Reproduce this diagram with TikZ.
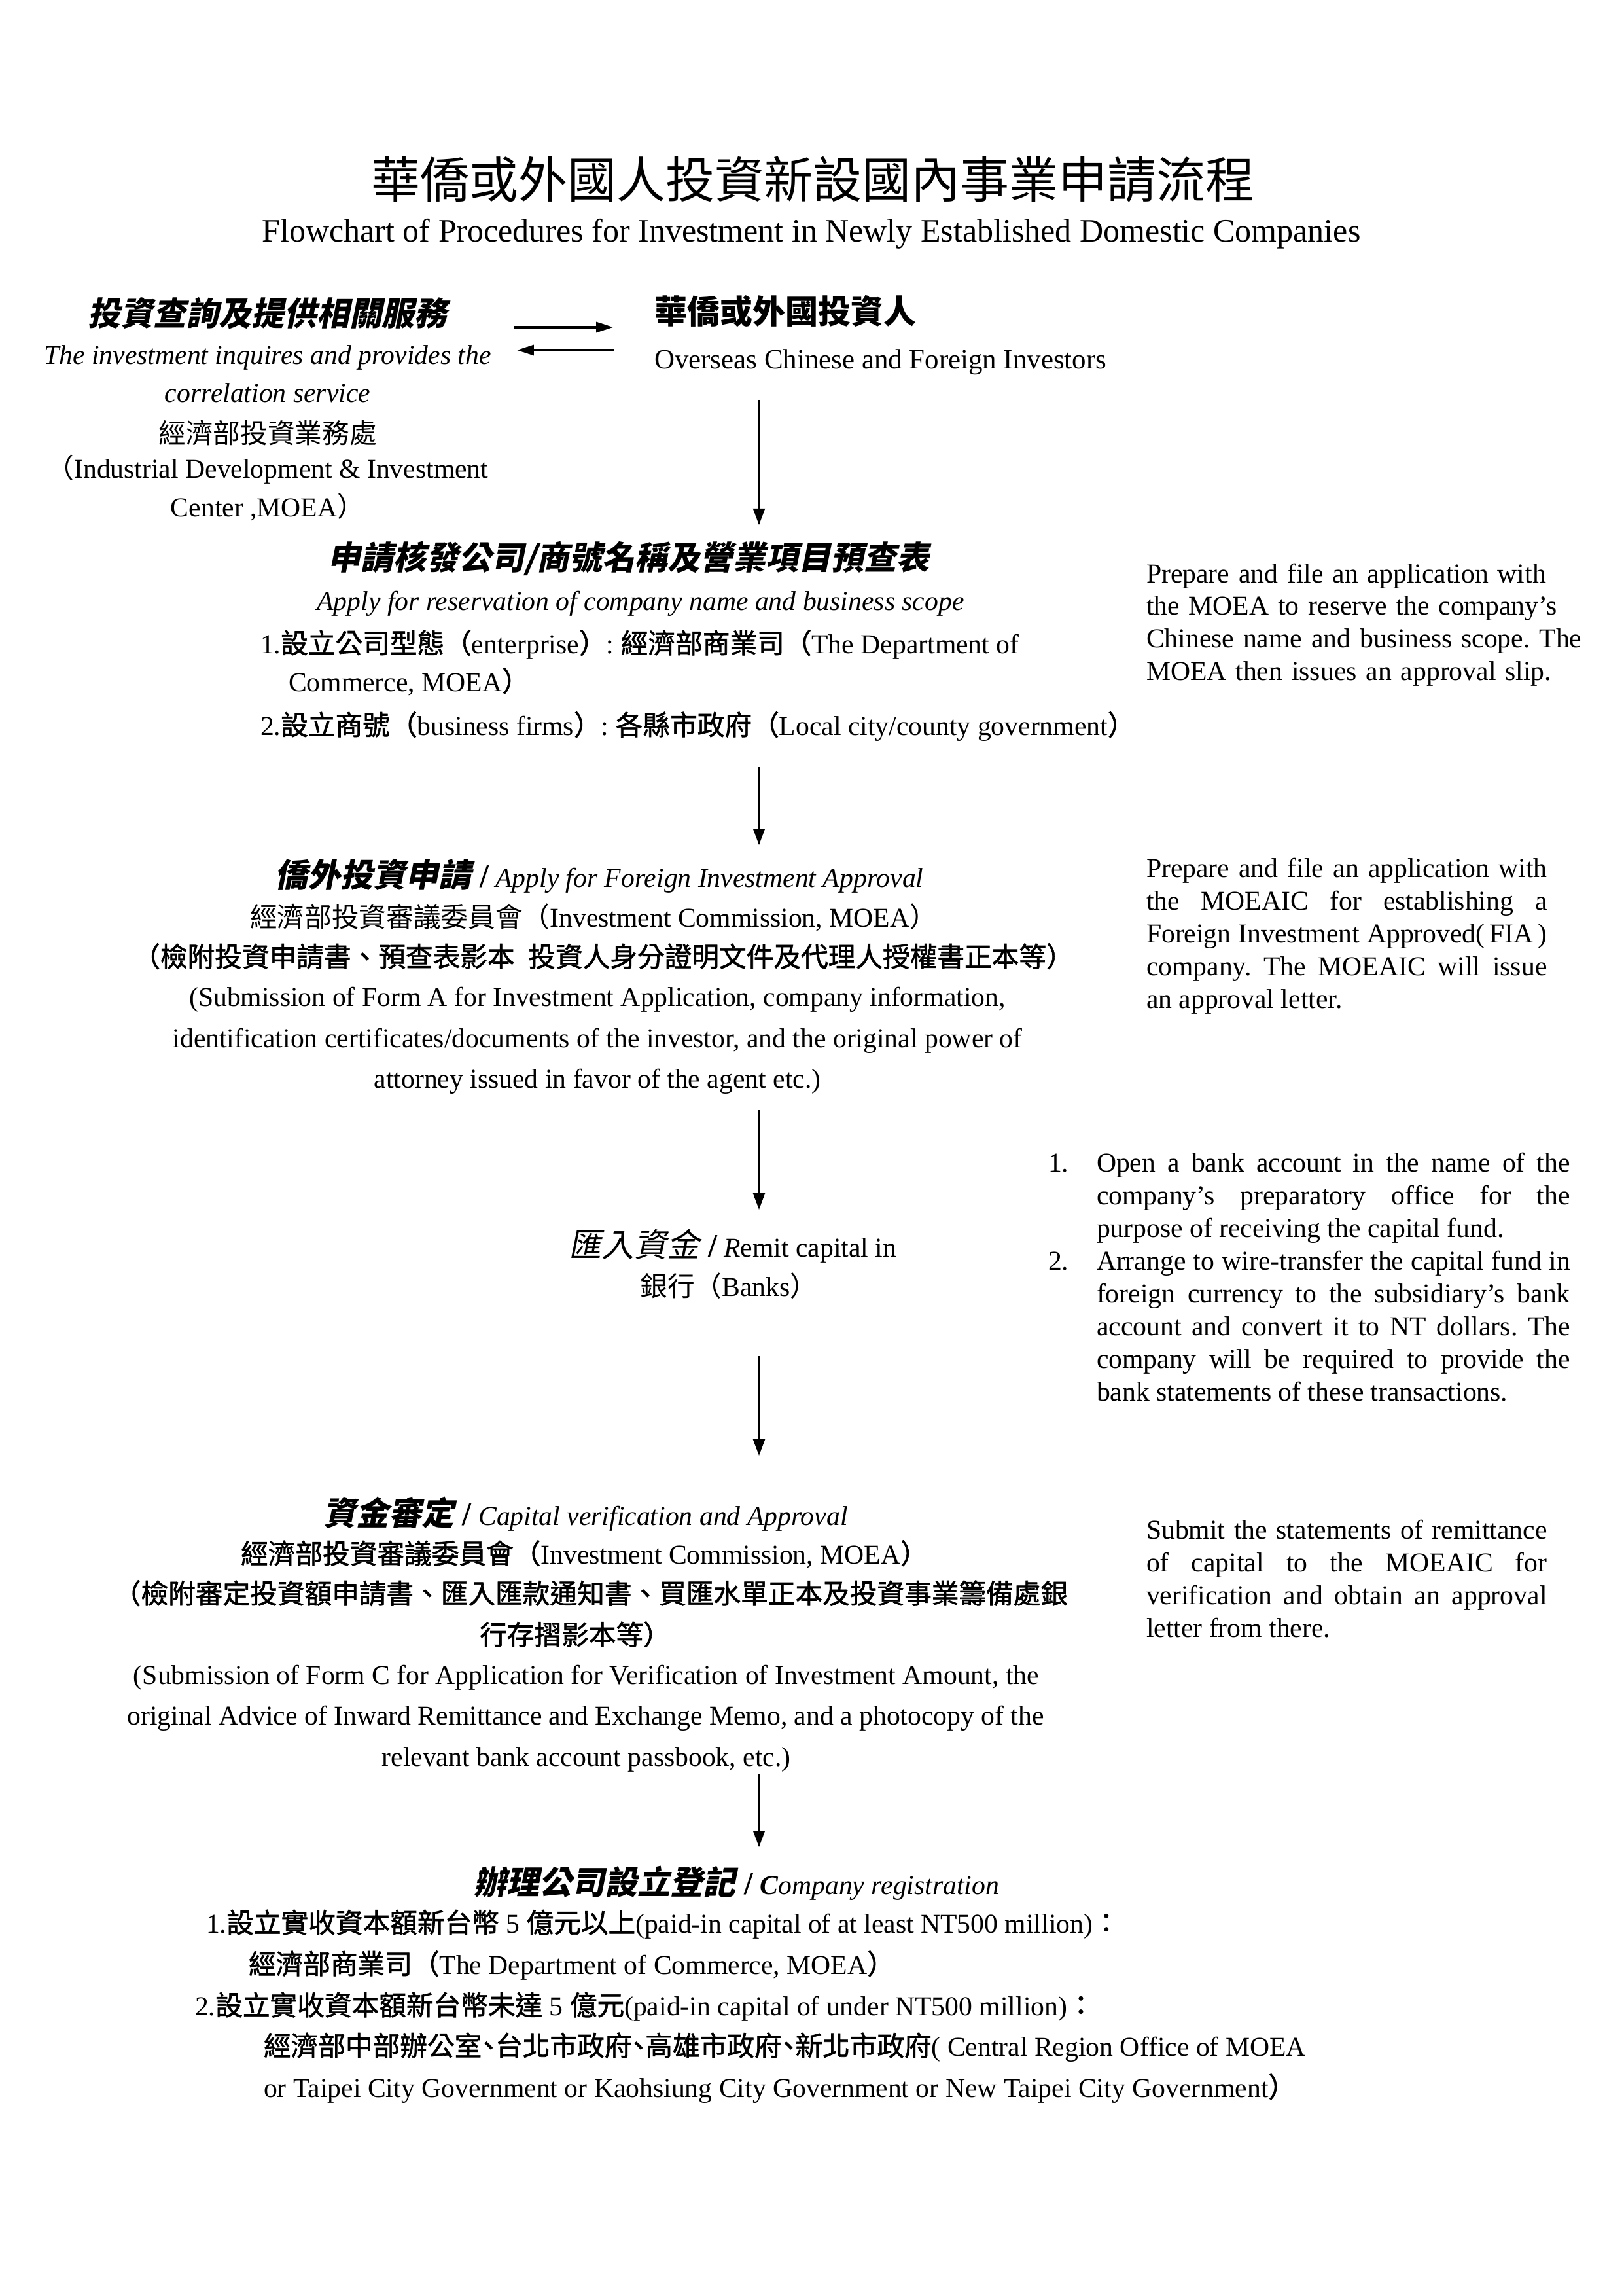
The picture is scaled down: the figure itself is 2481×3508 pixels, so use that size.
\documentclass[tikz,border=0pt]{standalone}
\usepackage{fontspec}
\setmainfont{Liberation Serif}
\newfontfamily\cjk{Noto Sans CJK TC}
\newfontfamily\cjkm[FakeBold=1.5]{Noto Sans CJK TC}
\newfontfamily\cjks[FakeSlant=0.2]{Noto Sans CJK TC}
\usetikzlibrary{arrows.meta}
\frenchspacing
\newcommand\Cr[1]{{\cjk #1}}
\newcommand\Cb[1]{{\cjk\bfseries #1}}
\newcommand\Cm[1]{{\cjkm #1}}
\newcommand\Cmh[1]{{\cjkm\addfontfeature{RawFeature=+halt}#1}}
\newcommand\Ch[1]{{\cjks\bfseries #1}}
\newcommand\Cs[1]{{\cjks #1}}
\newcommand\sizeH{\fontsize{12}{14}\selectfont}
\tikzset{
  ln/.style={inner sep=0pt, outer sep=0pt, anchor=base, font=\fontsize{10}{12}\selectfont},
  lnw/.style={ln, anchor=base west},
  hd/.style={ln, font=\fontsize{12}{14}\selectfont},
  note/.style={inner sep=0pt, outer sep=0pt, anchor=base west, text width=147pt, align=justify, font=\fontsize{10}{12}\selectfont},
  harrow/.style={line width=0.8pt, -{Triangle[length=6.2pt,width=3.8pt]}},
  varrow/.style={line width=0.6pt, -{Triangle[length=6pt,width=4.3pt]}}
}
\begin{document}
\begin{tikzpicture}[x=0.24pt, y=-0.24pt]
\useasboundingbox (0,0) rectangle (2481,3508);
\fill[white] (0,0) rectangle (2481,3508);

% title
\node[ln, font=\fontsize{18}{22}\selectfont] (title) at (1242,303) {\Cr{華僑或外國人投資新設國內事業申請流程}};
\node[ln, font=\fontsize{12}{14}\selectfont] (subtitle) at (1240,370) {Flowchart of Procedures for Investment in Newly Established Domestic Companies};

% service block
\node[hd] (svcZh) at (409,498) {\Ch{投資查詢及提供相關服務}};
\node[ln] (svcEn1) at (409,557) {\itshape The investment inquires and provides the};
\node[ln] (svcEn2) at (409,615) {\itshape correlation service};
\node[ln] (svcOrg) at (409,678) {\Cr{經濟部投資業務處}};
\node[ln] (svcOrgEn1) at (409,731) {\Cr{（}Industrial Development \& Investment};
\node[ln] (svcOrgEn2) at (409,790) {Center ,MOEA\Cr{）}};

% investor
\node[hd, anchor=base west] (invZh) at (1000,495) {\Cb{華僑或外國投資人}};
\node[lnw, font=\fontsize{10.3}{12}\selectfont] (invEn) at (1000,564) {Overseas Chinese and Foreign Investors};

% horizontal arrows
\coordinate (hA1) at (785,500);
\coordinate (hB1) at (937,500);
\coordinate (hA2) at (939,535);
\coordinate (hB2) at (790,535);
\draw[harrow] (hA1) -- (hB1);
\draw[harrow] (hA2) -- (hB2);

% vertical arrows
\coordinate (v1s) at (1160,611);  \coordinate (v1e) at (1160,802);
\coordinate (v2s) at (1160,1172); \coordinate (v2e) at (1160,1291);
\coordinate (v3s) at (1160,1696); \coordinate (v3e) at (1160,1848);
\coordinate (v4s) at (1160,2072); \coordinate (v4e) at (1160,2224);
\coordinate (v5s) at (1160,2710); \coordinate (v5e) at (1160,2822);
\draw[varrow] (v1s) -- (v1e);
\draw[varrow] (v2s) -- (v2e);
\draw[varrow] (v3s) -- (v3e);
\draw[varrow] (v4s) -- (v4e);
\draw[varrow] (v5s) -- (v5e);

% name reservation block
\node[hd] (nameHd) at (961,871) {\Ch{申請核發公司/商號名稱及營業項目預查表}};
\node[ln] (nameEn) at (979,933) {\itshape Apply for reservation of company name and business scope};
\node[lnw] (name1) at (398,998) {1.\Cm{設立公司型態（}enterprise\Cm{）}: \Cm{經濟部商業司（}The Department of};
\node[lnw] (name2) at (441,1056) {Commerce, MOEA\Cm{）}};
\node[lnw] (name3) at (398,1123) {2.\Cm{設立商號（}business firms\Cm{）}: \Cm{各縣市政府（}Local city/county government\Cm{）}};

\node[note, align=left, text width=165pt] (note1) at (1752,890) {Prepare and file an application with\\the MOEA to reserve the company’s\\Chinese name and business scope. The\\MOEA then issues an approval slip.};

% FIA block
\node[ln] (fiaHd) at (916,1355) {{\sizeH\Ch{僑外投資申請} \bfseries /} \textit{Apply for Foreign Investment Approval}};
\node[ln] (fiaOrg) at (907,1416) {\Cr{經濟部投資審議委員會（}Investment Commission, MOEA\Cr{）}};
\node[ln] (fiaDocZh) at (922,1477) {\Cm{（檢附投資申請書、預查表影本}\hspace{5pt}\Cm{投資人身分證明文件及代理人授權書正本等）}};
\node[ln] (fiaDocEn1) at (913,1537) {(Submission of Form A for Investment Application, company information,};
\node[ln] (fiaDocEn2) at (913,1600) {identification certificates/documents of the investor, and the original power of};
\node[ln] (fiaDocEn3) at (913,1662) {attorney issued in favor of the agent etc.)};

\node[note] (note2) at (1752,1340) {Prepare and file an application with\linebreak the MOEAIC for establishing a\linebreak Foreign Investment Approved(\,FIA\,)\linebreak company. The MOEAIC will issue\linebreak an approval letter.};

% remit block
\node[ln] (remit) at (1120,1920) {{\sizeH\Cs{匯入資金} \bfseries /} \textit{R}emit capital in};
\node[ln] (bank) at (1114,1980) {\Cr{銀行（}Banks\Cr{）}};

\node[lnw] (num1) at (1602,1790) {1.};
\node[note, text width=173.7pt] (item1) at (1676,1790) {Open a bank account in the name of the\linebreak company’s preparatory office for the\linebreak purpose of receiving the capital fund.};
\node[lnw] (num2) at (1602,1940) {2.};
\node[note, text width=173.7pt] (item2) at (1676,1940) {Arrange to wire-transfer the capital fund in\linebreak foreign currency to the subsidiary’s bank\linebreak account and convert it to NT dollars. The\linebreak company will be required to provide the\linebreak bank statements of these transactions.};

% capital verification block
\node[ln] (capHd) at (895,2330) {{\sizeH\Ch{資金審定} \bfseries /} \textit{Capital verification and Approval}};
\node[ln] (capOrg) at (893,2389) {\Cm{經濟部投資審議委員會（}Investment Commission, MOEA\Cm{）}};
\node[ln] (capDocZh1) at (903,2450) {\Cm{（檢附審定投資額申請書、匯入匯款通知書、買匯水單正本及投資事業籌備處銀}};
\node[ln] (capDocZh2) at (879,2513) {\Cm{行存摺影本等）}};
\node[ln] (capDocEn1) at (896,2573) {(Submission of Form C for Application for Verification of Investment Amount, the};
\node[ln] (capDocEn2) at (895,2635) {original Advice of Inward Remittance and Exchange Memo, and a photocopy of the};
\node[ln] (capDocEn3) at (896,2698) {relevant bank account passbook, etc.)};

\node[note] (note4) at (1752,2351) {Submit the statements of remittance\linebreak of capital to the MOEAIC for\linebreak verification and obtain an approval\linebreak letter from there.};

% registration block
\node[ln] (regHd) at (1126,2894) {{\sizeH\Ch{辦理公司設立登記} \bfseries /} \textit{\textbf{C}ompany registration}};
\node[lnw] (reg1) at (315,2953) {1.\Cm{設立實收資本額新台幣} 5 \Cm{億元以上}(paid-in capital of at least NT500 million)\Cm{：}};
\node[lnw] (reg1b) at (380,3016) {\Cm{經濟部商業司（}The Department of Commerce, MOEA\Cm{）}};
\node[lnw] (reg2) at (298,3079) {2.\Cm{設立實收資本額新台幣未達} 5 \Cm{億元}(paid-in capital of under NT500 million)\Cm{：}};
\node[lnw] (reg2b) at (403,3141) {\Cmh{經濟部中部辦公室、台北市政府、高雄市政府、新北市政府}( Central Region Office of MOEA};
\node[lnw] (reg2c) at (403,3204) {or Taipei City Government or Kaohsiung City Government or New Taipei City Government\Cm{）}};
\end{tikzpicture}
\end{document}
